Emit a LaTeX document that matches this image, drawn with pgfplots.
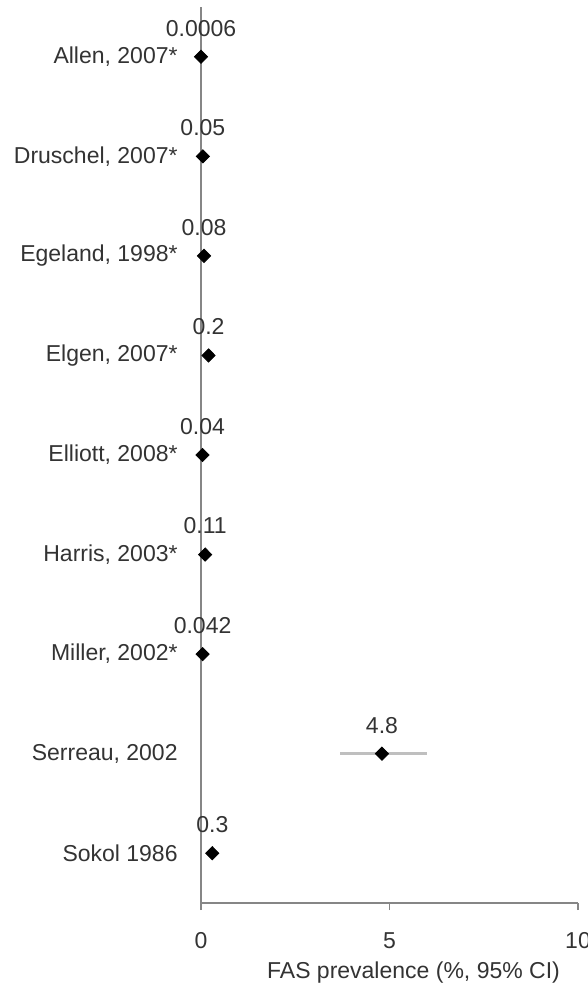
\documentclass[border=0pt]{standalone}
\usepackage{pgfplots}
\pgfplotsset{compat=1.18}
\usepackage{pgfplotstable}
\usepackage{fontspec}
\setmainfont{Liberation Sans}
\definecolor{txt}{HTML}{333333}
\definecolor{axg}{HTML}{868686}
\definecolor{errg}{HTML}{BFBFBF}
\pgfplotstableread{
x y ep em lab
0.0006 9 0 0 0.0006
0.05 8 0 0 0.05
0.08 7 0 0 0.08
0.2 6 0 0 0.2
0.04 5 0 0 0.04
0.11 4 0 0 0.11
0.042 3 0 0 0.042
4.8 2 1.2 1.1 4.8
0.3 1 0 0 0.3
}\data
\begin{document}
\begin{tikzpicture}
\path[use as bounding box] (-100.5pt,-43pt) rectangle (193.5pt,451.5pt);
\begin{axis}[
  scale only axis, width=188.5pt, height=448pt,
  at={(0,0)}, anchor=south west,
  xmin=0, xmax=10, ymin=0.5, ymax=9.5,
  clip=false,
  axis x line*=bottom, axis y line*=left,
  axis line style={axg, line width=0.8pt},
  xtick={0,5,10}, tick align=outside,
  x tick style={axg, line width=0.8pt}, major tick length=3.5pt,
  ytick={1,...,9}, y tick style={draw=none},
  yticklabels={{Sokol 1986},{Serreau, 2002},{Miller, 2002*},{Harris, 2003*},{Elliott, 2008*},{Elgen, 2007*},{Egeland, 1998*},{Druschel, 2007*},{Allen, 2007*}},
  /pgf/number format/assume math mode=true,
  every tick label/.append style={font=\fontsize{11.5}{13}\selectfont, text=txt},
  yticklabel style={anchor=east, inner sep=0pt, xshift=-8pt},
  xticklabel style={anchor=base, inner sep=0pt, yshift=-19pt},
  xlabel={FAS prevalence (\%, 95\% CI)},
  xlabel style={at={(axis description cs:0.5,0)}, anchor=base, inner sep=0pt, xshift=12pt, yshift=-37.5pt, font=\fontsize{11.5}{13}\selectfont, text=txt},
  point meta=explicit symbolic,
  nodes near coords={\pgfplotspointmeta},
  nodes near coords style={anchor=base, inner sep=0pt, yshift=10.3pt, font=\fontsize{11.5}{13}\selectfont, text=txt},
]
\addplot[only marks, mark=diamond*, mark size=3.3pt, mark options={xscale=1.33}, black,
  error bars/.cd, x dir=both, x explicit, error mark=none,
  error bar style={errg, line width=1.3pt}]
  table[x=x, y=y, x error plus=ep, x error minus=em, meta=lab] {\data};
\end{axis}
\end{tikzpicture}
\end{document}
